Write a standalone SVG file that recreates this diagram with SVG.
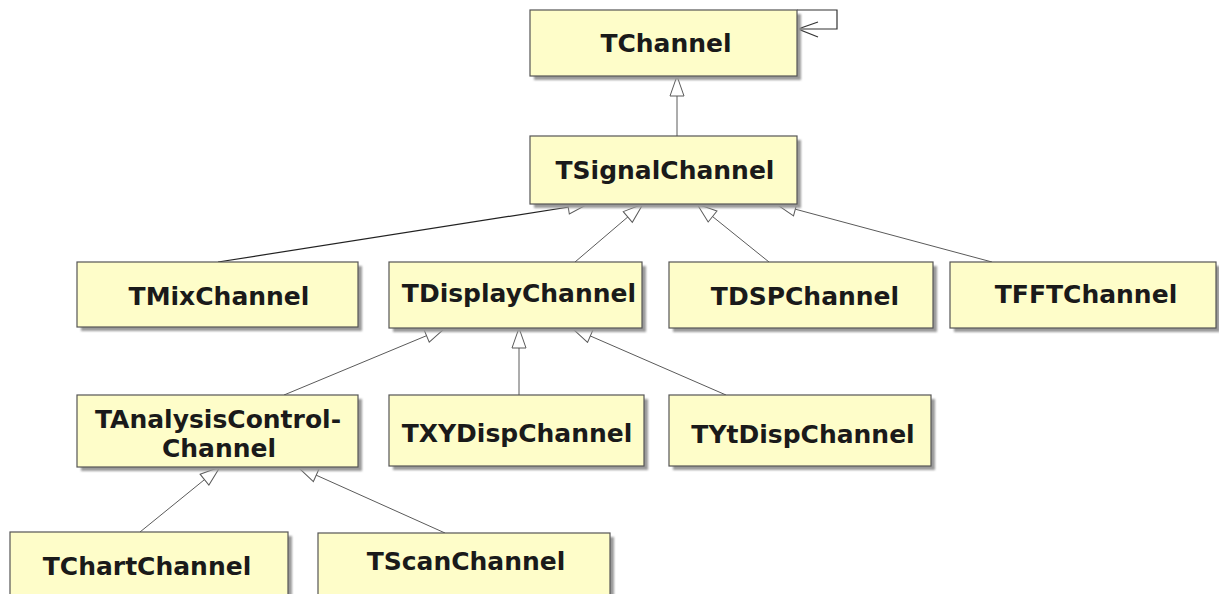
<svg xmlns="http://www.w3.org/2000/svg" width="1219" height="594" viewBox="0 0 1219 594">
  <style>
    .box { fill: #fefdc9; stroke: #555555; stroke-width: 1.2; }
    .shadow { fill: #9a9a9a; filter: url(#soft); }
    .label { font-family: "DejaVu Sans", Verdana, sans-serif; font-weight: bold; font-size: 25px; fill: #1a1a1a; text-anchor: middle; }
    .gen { fill: none; stroke: #5a5a5a; stroke-width: 1; marker-end: url(#hollow); }
    .gen.dark { stroke: #222222; stroke-width: 1.2; }
    .assoc { fill: none; stroke: #333333; stroke-width: 1.2; }
  </style>
  <defs>
    <filter id="soft" x="-5%" y="-5%" width="110%" height="110%">
      <feGaussianBlur stdDeviation="1.2"/>
    </filter>
    <!-- UML generalization: hollow triangle, tip at the line end -->
    <marker id="hollow" markerUnits="userSpaceOnUse" markerWidth="24" markerHeight="18" refX="21" refY="8" orient="auto">
      <path d="M1,1 L21,8 L1,15 Z" fill="#ffffff" stroke="#5a5a5a" stroke-width="1"/>
    </marker>
  </defs>

  <rect width="1219" height="594" fill="#ffffff"/>

  <g id="connectors">
    <line class="gen" x1="677" y1="136" x2="677" y2="76"/>
    <line class="gen dark" x1="218" y1="262" x2="588" y2="204"/>
    <line class="gen" x1="575" y1="262" x2="643" y2="204"/>
    <line class="gen" x1="769" y1="262" x2="697" y2="204"/>
    <line class="gen" x1="992" y1="262" x2="776" y2="204"/>
    <line class="gen" x1="284" y1="395" x2="445" y2="328"/>
    <line class="gen" x1="519" y1="395" x2="519" y2="328"/>
    <line class="gen" x1="726" y1="395" x2="572" y2="328"/>
    <line class="gen" x1="140" y1="532" x2="220" y2="467"/>
    <line class="gen" x1="445" y1="533" x2="298" y2="467"/>
    <!-- self association on TChannel -->
    <path class="assoc" d="M797,10 H837 V29 H797"/>
    <path class="assoc" d="M818,22 L798,29 L818,37"/>
  </g>

  <g id="TChannel">
    <rect class="shadow" x="534" y="14" width="267" height="66"/>
    <rect class="box" x="530" y="10" width="267" height="66"/>
    <text class="label" x="666" y="52">TChannel</text>
  </g>

  <g id="TSignalChannel">
    <rect class="shadow" x="534" y="140" width="267" height="68"/>
    <rect class="box" x="530" y="136" width="267" height="68"/>
    <text class="label" x="665" y="179">TSignalChannel</text>
  </g>

  <g id="TMixChannel">
    <rect class="shadow" x="81" y="266" width="281" height="65"/>
    <rect class="box" x="77" y="262" width="281" height="65"/>
    <text class="label" x="219" y="305">TMixChannel</text>
  </g>

  <g id="TDisplayChannel">
    <rect class="shadow" x="393" y="266" width="253" height="66"/>
    <rect class="box" x="389" y="262" width="253" height="66"/>
    <text class="label" x="519" y="302">TDisplayChannel</text>
  </g>

  <g id="TDSPChannel">
    <rect class="shadow" x="673" y="266" width="264" height="66"/>
    <rect class="box" x="669" y="262" width="264" height="66"/>
    <text class="label" x="805" y="305">TDSPChannel</text>
  </g>

  <g id="TFFTChannel">
    <rect class="shadow" x="954" y="266" width="266" height="66"/>
    <rect class="box" x="950" y="262" width="266" height="66"/>
    <text class="label" x="1086" y="303">TFFTChannel</text>
  </g>

  <g id="TAnalysisControlChannel">
    <rect class="shadow" x="81" y="399" width="281" height="72"/>
    <rect class="box" x="77" y="395" width="281" height="72"/>
    <text class="label" x="218" y="428">TAnalysisControl-</text>
    <text class="label" x="219" y="457">Channel</text>
  </g>

  <g id="TXYDispChannel">
    <rect class="shadow" x="393" y="399" width="255" height="71"/>
    <rect class="box" x="389" y="395" width="255" height="71"/>
    <text class="label" x="517" y="442">TXYDispChannel</text>
  </g>

  <g id="TYtDispChannel">
    <rect class="shadow" x="673" y="399" width="262" height="71"/>
    <rect class="box" x="669" y="395" width="262" height="71"/>
    <text class="label" x="803" y="443">TYtDispChannel</text>
  </g>

  <g id="TChartChannel">
    <rect class="shadow" x="14" y="536" width="278" height="70"/>
    <rect class="box" x="10" y="532" width="278" height="70"/>
    <text class="label" x="147" y="575">TChartChannel</text>
  </g>

  <g id="TScanChannel">
    <rect class="shadow" x="322" y="537" width="292" height="70"/>
    <rect class="box" x="318" y="533" width="292" height="70"/>
    <text class="label" x="466" y="570">TScanChannel</text>
  </g>
</svg>
